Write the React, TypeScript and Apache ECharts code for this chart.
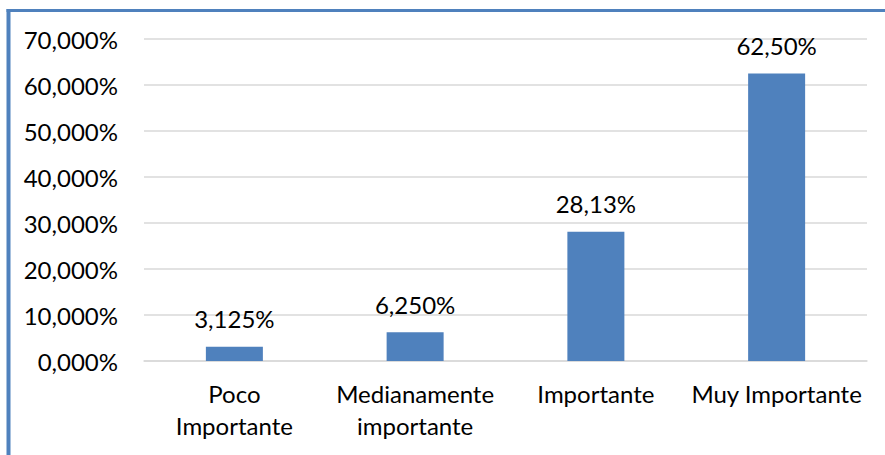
import React, { useEffect, useRef } from "react";
import * as echarts from "echarts";

const categories = ["Poco\nImportante", "Medianamente\nimportante", "Importante", "Muy Importante"];
const values = [3.125, 6.25, 28.125, 62.5];
const valueLabels = ["3,125%", "6,250%", "28,13%", "62,50%"];
const yTickLabels = ["0,000%", "10,000%", "20,000%", "30,000%", "40,000%", "50,000%", "60,000%", "70,000%"];

const FONT = "Lato, 'Open Sans', sans-serif";

export default function App() {
  const ref = useRef<HTMLDivElement>(null);
  useEffect(() => {
    if (!ref.current) return;
    const chart = echarts.init(ref.current, null, { renderer: "svg" });
    chart.setOption({
      animation: false,
      backgroundColor: "#ffffff",
      textStyle: { fontFamily: FONT },
      grid: { left: 144, right: 18, top: 39, bottom: 94, containLabel: false },
      xAxis: {
        type: "category",
        data: categories,
        axisLine: { show: true, lineStyle: { color: "#d9d9d9", width: 1.5 } },
        axisTick: { show: false },
        axisLabel: {
          color: "#000",
          fontSize: 24,
          fontFamily: FONT,
          lineHeight: 32,
          margin: 16,
          interval: 0,
        },
      },
      yAxis: {
        type: "value",
        min: 0,
        max: 70,
        interval: 10,
        axisLine: { show: false },
        axisTick: { show: false },
        splitLine: { show: true, lineStyle: { color: "#d9d9d9", width: 1.5 } },
        axisLabel: {
          color: "#000",
          fontSize: 24,
          fontFamily: FONT,
          margin: 26,
          formatter: (v: number) => yTickLabels[Math.round(v / 10)] ?? "",
        },
      },
      series: [
        {
          type: "bar",
          data: values,
          barWidth: 57,
          itemStyle: { color: "#4F81BD" },
          label: {
            show: true,
            position: "top",
            distance: 16,
            color: "#000",
            fontSize: 24,
            fontFamily: FONT,
            formatter: (p: any) => valueLabels[p.dataIndex],
          },
        },
      ],
      graphic: [
        {
          type: "line",
          shape: { x1: 8.5, y1: 9, x2: 8.5, y2: 460 },
          style: { stroke: "#4F81BD", lineWidth: 4 },
        },
        {
          type: "line",
          shape: { x1: 6.5, y1: 10.5, x2: 890, y2: 10.5 },
          style: { stroke: "#4F81BD", lineWidth: 3 },
        },
      ],
    });
    return () => chart.dispose();
  }, []);
  return (
    <div style={{ position: "absolute", left: 0, top: 0, width: 885, height: 455, background: "#fff" }}>
      <div ref={ref} style={{ width: 885, height: 455 }} />
    </div>
  );
}
